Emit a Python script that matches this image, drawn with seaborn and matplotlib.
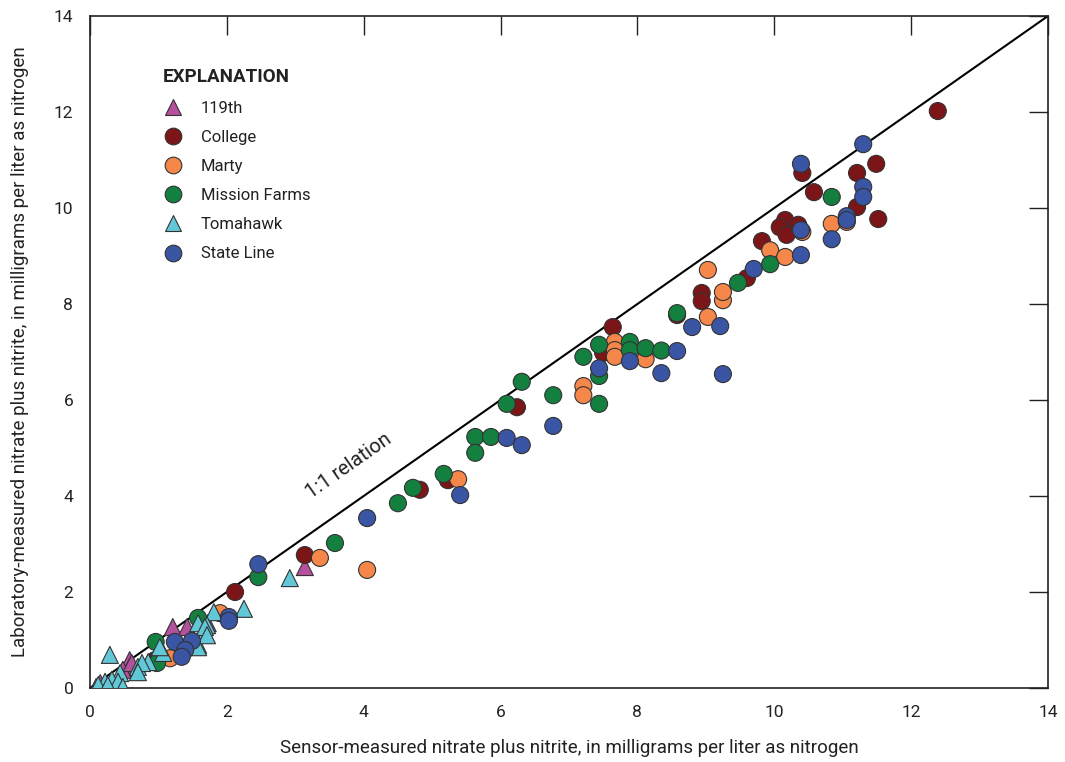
import matplotlib
matplotlib.use("Agg")
import matplotlib.pyplot as plt
from matplotlib import font_manager
from matplotlib.lines import Line2D
import numpy as np
import pandas as pd
import seaborn as sns

# Sensor (x) vs. laboratory (y) nitrate plus nitrite, mg/L as N, by site
sites = ["119th", "College", "Marty", "Mission Farms", "Tomahawk", "State Line"]

x_119th = [3.14, 1.21, 1.42, 1.72, 0.58, 0.58, 0.48, 0.61, 0.09, 0.15]
y_119th = [2.52, 1.27, 1.27, 1.35, 0.58, 0.44, 0.38, 0.52, 0.02, 0.10]

x_college = [12.39, 11.49, 10.41, 11.21, 10.58, 11.21, 11.52, 10.16, 10.08, 10.18,
             10.35, 9.82, 9.60, 8.94, 8.94, 7.64, 7.50, 6.24, 8.58, 3.14,
             2.12, 4.82, 5.23, 0.95]
y_college = [12.02, 10.92, 10.73, 10.73, 10.33, 10.02, 9.77, 9.75, 9.60, 9.44,
             9.65, 9.31, 8.54, 8.23, 8.06, 7.52, 6.98, 5.85, 7.77, 2.77,
             2.00, 4.13, 4.33, 0.58]

x_marty = [3.36, 4.05, 5.38, 7.21, 7.21, 7.67, 7.67, 7.67, 8.12, 9.03,
           9.25, 9.03, 9.25, 9.94, 10.16, 10.84, 11.06, 10.41, 1.17, 1.90]
y_marty = [2.71, 2.46, 4.35, 6.29, 6.10, 7.21, 7.04, 6.90, 6.85, 7.73,
           8.08, 8.71, 8.25, 9.12, 8.98, 9.67, 9.71, 9.50, 0.62, 1.56]

x_mission = [6.31, 6.09, 6.77, 5.63, 5.63, 5.86, 7.21, 7.44, 7.44, 7.44,
             7.89, 7.89, 8.12, 8.35, 8.58, 9.47, 9.94, 10.84, 3.58, 4.50,
             4.72, 5.17, 2.46, 0.96, 0.98, 1.58]
y_mission = [6.38, 5.92, 6.10, 5.23, 4.90, 5.23, 6.90, 7.15, 6.50, 5.92,
             7.21, 7.04, 7.08, 7.03, 7.81, 8.44, 8.83, 10.23, 3.02, 3.85,
             4.17, 4.46, 2.31, 0.96, 0.52, 1.46]

x_tomahawk = [2.92, 2.25, 1.81, 1.71, 1.68, 1.58, 1.07, 0.85, 0.70, 0.29,
              0.76, 0.44, 0.22, 0.32, 0.41, 0.12, 0.48, 0.26, 1.58, 1.68,
              1.02, 1.71, 1.58, 0.70]
y_tomahawk = [2.29, 1.65, 1.58, 1.31, 1.17, 0.90, 0.73, 0.54, 0.44, 0.69,
              0.52, 0.31, 0.13, 0.17, 0.13, 0.06, 0.02, 0.06, 1.35, 1.27,
              0.85, 1.10, 0.85, 0.33]

x_stateline = [11.30, 10.39, 11.30, 11.30, 11.06, 11.06, 10.39, 10.84, 10.39, 9.70,
               8.80, 9.21, 9.25, 8.58, 8.35, 7.89, 7.44, 6.77, 6.09, 6.31,
               5.41, 4.05, 2.46, 2.03, 2.03, 1.24, 1.49, 1.39, 1.34]
y_stateline = [11.33, 10.92, 10.44, 10.23, 9.83, 9.75, 9.54, 9.35, 9.02, 8.73,
               7.52, 7.54, 6.54, 7.02, 6.56, 6.81, 6.66, 5.46, 5.21, 5.06,
               4.02, 3.54, 2.58, 1.48, 1.40, 0.96, 0.98, 0.79, 0.65]

site_x = [x_119th, x_college, x_marty, x_mission, x_tomahawk, x_stateline]
site_y = [y_119th, y_college, y_marty, y_mission, y_tomahawk, y_stateline]

palette = {
    "119th": "#B5509F",
    "College": "#7C1518",
    "Marty": "#F5874A",
    "Mission Farms": "#13803F",
    "Tomahawk": "#62C8D7",
    "State Line": "#3A55A4",
}
markers = {
    "119th": "^",
    "College": "o",
    "Marty": "o",
    "Mission Farms": "o",
    "Tomahawk": "^",
    "State Line": "o",
}

frames = [pd.DataFrame({"sensor": xs, "lab": ys, "site": s})
          for s, xs, ys in zip(sites, site_x, site_y)]
df = pd.concat(frames, ignore_index=True)

sns.set_theme(style="white")
installed = {f.name for f in font_manager.fontManager.ttflist}
family = [f for f in ["Liberation Sans Narrow", "Roboto", "DejaVu Sans"] if f in installed]
plt.rcParams["font.family"] = family

fig = plt.figure(figsize=(10.65, 7.62), dpi=100)
ax = fig.add_axes([0.0845, 0.0971, 0.8995, 0.8819])

# 1:1 reference line
ax.plot([0, 14], [0, 14], color="black", lw=1.5, zorder=1)
ax.text(3.78, 4.62, "1:1 relation", rotation=35.0, rotation_mode="anchor",
        ha="center", va="center", fontsize=14.5, color="#222222")

sns.scatterplot(data=df, x="sensor", y="lab", hue="site", style="site",
                palette=palette, markers=markers, hue_order=sites,
                style_order=sites, s=150, edgecolor="#333333", linewidth=0.8,
                ax=ax, legend=False, zorder=3)

ax.set_xlim(0, 14)
ax.set_ylim(0, 14)
ticks = np.arange(0, 15, 2)
ax.set_xticks(ticks)
ax.set_yticks(ticks)
ax.tick_params(axis="both", which="major", direction="in", length=14, width=1.0,
               color="#222222", labelsize=12.5, labelcolor="#222222",
               top=True, right=True, pad=12)
for sp in ax.spines.values():
    sp.set_visible(True)
    sp.set_color("#222222")
    sp.set_linewidth(1.2)

ax.set_xlabel("Sensor-measured nitrate plus nitrite, in milligrams per liter as nitrogen",
              fontsize=13.5, color="#222222", labelpad=14)
ax.set_ylabel("Laboratory-measured nitrate plus nitrite, in milligrams per liter as nitrogen",
              fontsize=13.5, color="#222222", labelpad=18)

handles = [Line2D([0], [0], marker=markers[s], linestyle="none", markersize=12,
                  markerfacecolor=palette[s], markeredgecolor="#333333",
                  markeredgewidth=0.8) for s in sites]
leg = ax.legend(handles, sites, title="EXPLANATION", loc="upper left",
                bbox_to_anchor=(0.0688, 0.932), frameon=False, fontsize=12,
                title_fontproperties={"weight": "bold", "size": 13.5},
                handlelength=1.2, handletextpad=1.1, labelspacing=0.85,
                borderaxespad=0)
leg._legend_box.align = "left"
for t in leg.get_texts():
    t.set_color("#222222")
leg.get_title().set_color("#222222")

fig.savefig("out.png", dpi=100)
